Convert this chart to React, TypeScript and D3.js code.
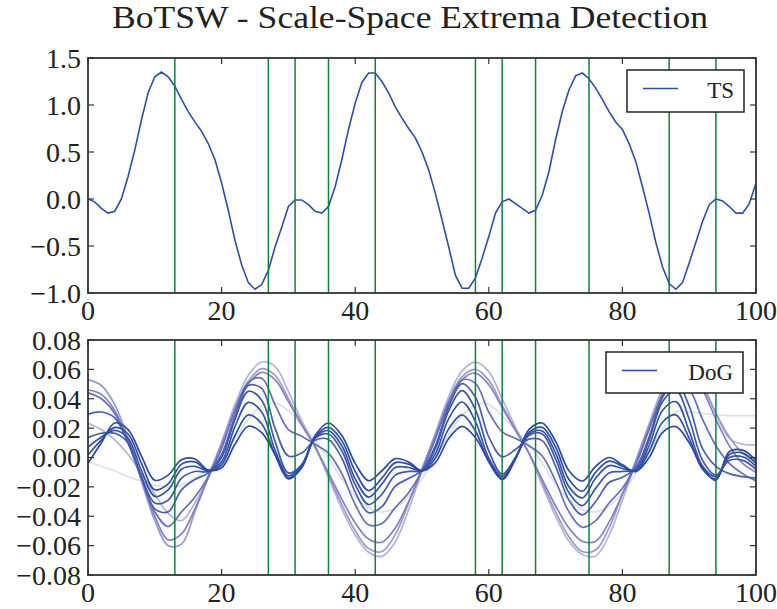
import React from "react";
import * as d3 from "d3";

// ---------------- data ----------------
const TITLE = "BoTSW - Scale-Space Extrema Detection";

// time series, sampled at x = 0..100
const tsValues = [
  0.0, -0.03, -0.1, -0.15, -0.13, 0.0, 0.24, 0.52, 0.84, 1.13,
  1.3, 1.35, 1.3, 1.2, 1.06, 0.93, 0.82, 0.72, 0.59, 0.42,
  0.17, -0.12, -0.44, -0.7, -0.89, -0.96, -0.91, -0.76, -0.51, -0.3,
  -0.08, -0.01, -0.01, -0.06, -0.13, -0.15, -0.08, 0.13, 0.42, 0.74,
  1.02, 1.24, 1.34, 1.34, 1.25, 1.13, 0.98, 0.86, 0.75, 0.65,
  0.5, 0.31, 0.06, -0.22, -0.51, -0.81, -0.95, -0.95, -0.84, -0.63,
  -0.4, -0.15, -0.03, 0.0, -0.05, -0.1, -0.15, -0.12, 0.04, 0.29,
  0.63, 0.93, 1.16, 1.31, 1.34, 1.28, 1.18, 1.06, 0.93, 0.82,
  0.74, 0.59, 0.4, 0.13, -0.15, -0.46, -0.72, -0.9, -0.96, -0.89,
  -0.68, -0.46, -0.24, -0.06, 0.0, -0.02, -0.08, -0.15, -0.15, -0.05,
  0.17,
];

// DoG responses, sampled at x = 0, 2, ..., 100 (finest scale first)
const dog0 = [
  -0.004, 0.010, 0.0235, 0.019, 0.001, -0.0155, -0.012, -0.0015, -0.001, -0.0085, -0.007, 0.009, 0.0213, 0.017, 0.002, -0.0145, -0.007,
  0.015, 0.0235, 0.015, -0.004, -0.0158, -0.009, -0.0008, -0.003, -0.009, -0.0035, 0.013, 0.0212, 0.0135, -0.0025, -0.015, -0.001,
  0.019, 0.0235, 0.011, -0.009, -0.016, -0.006, 0.0, -0.005, -0.0095, 0.0, 0.017, 0.021, 0.010, -0.007, -0.0155, 0.004, 0.005, -0.002,
];
const dog1 = [
  0.0017, 0.012, 0.0205, 0.016, -0.004, -0.022, -0.018, -0.0045, -0.003, -0.009, -0.005, 0.015, 0.029, 0.023, 0.002, -0.014, -0.006,
  0.014, 0.0205, 0.0115, -0.0095, -0.0225, -0.014, -0.0035, -0.0045, -0.0093, -0.0005, 0.0195, 0.029, 0.018, -0.003, -0.0143, -0.0005,
  0.017, 0.0205, 0.007, -0.015, -0.023, -0.01, -0.0025, -0.006, -0.0095, 0.004, 0.024, 0.029, 0.013, -0.008, -0.0145, 0.002, 0.003, -0.004,
];
const dog2 = [
  0.007, 0.014, 0.0185, 0.013, -0.009, -0.0265, -0.022, -0.008, -0.006, -0.009, -0.003, 0.021, 0.0375, 0.031, 0.005, -0.0125, -0.005,
  0.0135, 0.0183, 0.008, -0.0145, -0.027, -0.018, -0.0068, -0.0068, -0.009, 0.0025, 0.0265, 0.0378, 0.0245, -0.0005, -0.0128, 0.0,
  0.016, 0.018, 0.003, -0.02, -0.0275, -0.014, -0.0055, -0.0075, -0.009, 0.008, 0.032, 0.038, 0.018, -0.006, -0.013, 0.0, 0.0005, -0.006,
];
const dog3 = [
  0.0135, 0.0165, 0.0165, 0.010, -0.013, -0.031, -0.029, -0.014, -0.0095, -0.0095, 0.0, 0.026, 0.045, 0.039, 0.011, -0.0105, -0.005,
  0.013, 0.016, 0.0045, -0.0185, -0.032, -0.025, -0.012, -0.0095, -0.0088, 0.006, 0.032, 0.0455, 0.0325, 0.0045, -0.0113, 0.0,
  0.015, 0.016, -0.001, -0.024, -0.0328, -0.021, -0.0105, -0.0095, -0.008, 0.012, 0.038, 0.046, 0.026, -0.002, -0.012, -0.002, -0.002, -0.008,
];
const dog4 = [
  0.0294, 0.031, 0.027, 0.010, -0.013, -0.035, -0.037, -0.022, -0.015, -0.0105, 0.002, 0.028, 0.049, 0.047, 0.020, 0.001, 0.003,
  0.0118, 0.0123, -0.0005, -0.0235, -0.0375, -0.0335, -0.0195, -0.0143, -0.0088, 0.008, 0.0345, 0.0503, 0.041, 0.014, 0.0005, 0.0055,
  0.0125, 0.0115, -0.006, -0.029, -0.039, -0.030, -0.017, -0.0135, -0.007, 0.014, 0.041, 0.0516, 0.035, 0.006, -0.006, -0.011, -0.013, -0.014,
];
const dog5 = [
  0.044, 0.040, 0.030, 0.010, -0.014, -0.037, -0.047, -0.037, -0.027, -0.013, 0.006, 0.032, 0.051, 0.054, 0.036, 0.019, 0.0145,
  0.009, 0.003, -0.011, -0.032, -0.0458, -0.045, -0.034, -0.024, -0.009, 0.0125, 0.0375, 0.0528, 0.0505, 0.031, 0.0175, 0.013,
  0.008, 0.001, -0.016, -0.037, -0.0475, -0.043, -0.031, -0.021, -0.005, 0.019, 0.043, 0.0545, 0.047, 0.026, 0.008, -0.004, -0.011, -0.016,
];
const dog6 = [
  0.046, 0.043, 0.032, 0.011, -0.015, -0.040, -0.056, -0.052, -0.035, -0.014, 0.008, 0.031, 0.050, 0.058, 0.053, 0.038, 0.022,
  0.007, -0.0105, -0.0285, -0.0445, -0.0555, -0.0577, -0.048, -0.030, -0.009, 0.014, 0.036, 0.053, 0.0575, 0.0495, 0.034, 0.0185,
  0.003, -0.015, -0.033, -0.048, -0.057, -0.057, -0.044, -0.025, -0.004, 0.020, 0.041, 0.056, 0.057, 0.046, 0.026, 0.008, -0.004, -0.010,
];
const dog7 = [
  0.053, 0.049, 0.036, 0.013, -0.016, -0.043, -0.060, -0.059, -0.037, -0.013, 0.010, 0.034, 0.052, 0.0605, 0.056, 0.040, 0.023,
  0.0075, -0.012, -0.032, -0.050, -0.062, -0.064, -0.0525, -0.031, -0.0075, 0.016, 0.039, 0.055, 0.060, 0.0525, 0.0355, 0.019,
  0.003, -0.017, -0.037, -0.054, -0.064, -0.063, -0.048, -0.025, -0.002, 0.022, 0.044, 0.058, 0.060, 0.049, 0.030, 0.014, 0.003, -0.003,
];
const dog8 = [
  0.0233, 0.019, 0.012, 0.002, -0.011, -0.025, -0.038, -0.043, -0.031, -0.013, 0.010, 0.036, 0.056, 0.065, 0.062, 0.045, 0.025,
  0.0075, -0.0135, -0.035, -0.053, -0.0645, -0.0673, -0.0575, -0.0355, -0.009, 0.0165, 0.0415, 0.059, 0.065, 0.0585, 0.040, 0.0205,
  0.003, -0.019, -0.040, -0.057, -0.066, -0.067, -0.053, -0.029, -0.003, 0.023, 0.047, 0.062, 0.0653, 0.050, 0.030, 0.013, 0.009, 0.0085,
];
const dog9 = [
  -0.003, -0.006, -0.009, -0.013, -0.016, -0.019, -0.020, -0.019, -0.014, -0.008, 0.002, 0.013, 0.026, 0.035, 0.037, 0.032, 0.022,
  0.0115, -0.0005, -0.0145, -0.0265, -0.034, -0.037, -0.0345, -0.0265, -0.0145, 0.0, 0.0155, 0.0285, 0.036, 0.036, 0.0285, 0.0185,
  0.009, -0.004, -0.018, -0.029, -0.0355, -0.037, -0.033, -0.024, -0.011, 0.004, 0.019, 0.031, 0.031, 0.030, 0.029, 0.0285, 0.0285, 0.0285,
];
const dogSeries = [dog0, dog1, dog2, dog3, dog4, dog5, dog6, dog7, dog8, dog9];
const dogColors = [
  "#2a4aa6", "#2f4ea8", "#3552aa", "#3d57ad", "#4c60b2",
  "#6670ba", "#8282c3", "#9a9acf", "#b2b2db", "#dedef1",
];

// detected extrema positions
const extrema = [13, 27, 31, 36, 43, 58, 62, 67, 75, 87, 94];

const xTicks = [0, 20, 40, 60, 80, 100];
const tsTicks = [-1.0, -0.5, 0.0, 0.5, 1.0, 1.5];
const dogTicks = [-0.08, -0.06, -0.04, -0.02, 0.0, 0.02, 0.04, 0.06, 0.08];

// ---------------- layout ----------------
const W = 777;
const H = 609;
const LEFT = 88;
const RIGHT = 756;
const P1 = { top: 58, bottom: 293 };
const P2 = { top: 340, bottom: 575 };
const FONT = "'Liberation Serif', 'Times New Roman', serif";
const AXIS = "#333333";
const GREEN = "#11803d";
const TS_COLOR = "#2b4fa9";
const TICK_FS = 28;

const x = d3.scaleLinear().domain([0, 100]).range([LEFT, RIGHT]);
const yTS = d3.scaleLinear().domain([-1, 1.5]).range([P1.bottom, P1.top]);
const yDoG = d3.scaleLinear().domain([-0.08, 0.08]).range([P2.bottom, P2.top]);
const tsX = d3.range(0, tsValues.length);
const dogX = d3.range(0, 101, 2);

function Frame({ y, ticks, fmt, panel }) {
  const tl = 6;
  return (
    <g>
      {xTicks.map((t) => (
        <g key={"x" + t}>
          <line x1={x(t)} x2={x(t)} y1={panel.bottom} y2={panel.bottom - tl} stroke={AXIS} strokeWidth={1.2} />
          <line x1={x(t)} x2={x(t)} y1={panel.top} y2={panel.top + tl} stroke={AXIS} strokeWidth={1.2} />
          <text x={x(t)} y={panel.bottom + 27} textAnchor="middle" fontFamily={FONT} fontSize={TICK_FS} fill="#222">
            {t}
          </text>
        </g>
      ))}
      {ticks.map((t) => (
        <g key={"y" + t}>
          <line x1={LEFT} x2={LEFT + tl} y1={y(t)} y2={y(t)} stroke={AXIS} strokeWidth={1.2} />
          <line x1={RIGHT} x2={RIGHT - tl} y1={y(t)} y2={y(t)} stroke={AXIS} strokeWidth={1.2} />
          <text x={81} y={y(t)} dy="0.35em" textAnchor="end" fontFamily={FONT} fontSize={TICK_FS} fill="#222">
            {fmt(t)}
          </text>
        </g>
      ))}
      <rect x={LEFT} y={panel.top} width={RIGHT - LEFT} height={panel.bottom - panel.top} fill="none" stroke={AXIS} strokeWidth={1.8} />
    </g>
  );
}

function Legend({ x0, y0, w, h, label, color }) {
  return (
    <g>
      <rect x={x0} y={y0} width={w} height={h} fill="#fff" stroke="#222" strokeWidth={1.5} />
      <line x1={x0 + 16} x2={x0 + 51} y1={y0 + 18.5} y2={y0 + 18.5} stroke={color} strokeWidth={1.6} />
      <text x={x0 + w - 10} y={y0 + 27.5} textAnchor="end" fontFamily={FONT} fontSize={23} fill="#222">
        {label}
      </text>
    </g>
  );
}

export default function App() {
  const tsLine = d3
    .line<number>()
    .x((_, i) => x(tsX[i]))
    .y((d) => yTS(d));
  const dogLine = d3
    .line<number>()
    .x((_, i) => x(dogX[i]))
    .y((d) => yDoG(d))
    .curve(d3.curveCatmullRom.alpha(0.5));
  const fmt1 = d3.format(".1f");
  const fmt2 = d3.format(".2f");

  return (
    <svg width={W} height={H} style={{ position: "absolute", left: 0, top: 0, background: "#fff" }}>
      <defs>
        <clipPath id="c1">
          <rect x={LEFT} y={P1.top} width={RIGHT - LEFT} height={P1.bottom - P1.top} />
        </clipPath>
        <clipPath id="c2">
          <rect x={LEFT} y={P2.top} width={RIGHT - LEFT} height={P2.bottom - P2.top} />
        </clipPath>
      </defs>
      <rect x={0} y={0} width={W} height={H} fill="#fff" />
      <text x={410} y={28} textAnchor="middle" fontFamily={FONT} fontSize={31} fill="#222" textLength={596} lengthAdjust="spacingAndGlyphs">
        {TITLE}
      </text>

      {/* top panel */}
      <g clipPath="url(#c1)">
        <path d={tsLine(tsValues) || ""} fill="none" stroke={TS_COLOR} strokeWidth={1.6} />
        {extrema.map((e) => (
          <line key={"g1" + e} x1={x(e)} x2={x(e)} y1={P1.top} y2={P1.bottom} stroke={GREEN} strokeWidth={1.5} />
        ))}
      </g>
      <Frame y={yTS} ticks={tsTicks} fmt={fmt1} panel={P1} />
      <Legend x0={627} y0={70} w={117} h={42} label="TS" color={TS_COLOR} />

      {/* bottom panel */}
      <g clipPath="url(#c2)">
        {dogSeries
          .map((s, i) => ({ s, i }))
          .reverse()
          .map(({ s, i }) => (
            <path key={"d" + i} d={dogLine(s) || ""} fill="none" stroke={dogColors[i]} strokeWidth={1.7} />
          ))}
        {extrema.map((e) => (
          <line key={"g2" + e} x1={x(e)} x2={x(e)} y1={P2.top} y2={P2.bottom} stroke={GREEN} strokeWidth={1.5} />
        ))}
      </g>
      <Frame y={yDoG} ticks={dogTicks} fmt={fmt2} panel={P2} />
      <Legend x0={606} y0={352} w={137} h={41} label="DoG" color={dogColors[0]} />
    </svg>
  );
}
